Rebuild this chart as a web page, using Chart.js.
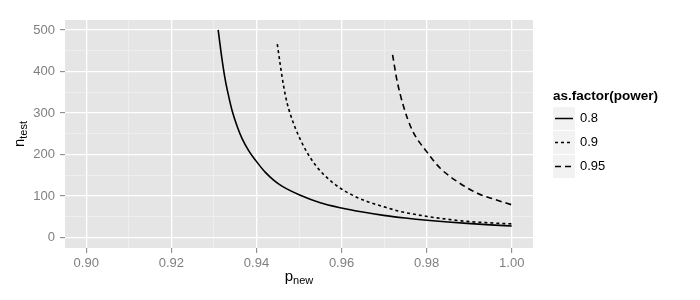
<!DOCTYPE html>
<html>
<head>
<meta charset="utf-8">
<script src="https://cdn.jsdelivr.net/npm/chart.js@4.4.1/dist/chart.umd.min.js"></script>
<style>
  html, body { margin: 0; padding: 0; background: #fff; }
  #wrap { width: 700px; height: 300px; }
</style>
</head>
<body>
<div id="wrap"><canvas id="chart" width="700" height="300"></canvas></div>
<script>
// --- Datos ---
const p80X = [0.9310, 0.9319, 0.9327, 0.9335, 0.9343, 0.9355, 0.9366, 0.9382, 0.9398, 0.9421,
              0.9441, 0.9460, 0.9503, 0.9550, 0.9597, 0.9650, 0.9699, 0.9750, 0.9801, 0.9850,
              0.9895, 0.9950, 1.0000];
const p80Y = [500, 430, 378, 339, 305, 267, 239, 209, 186, 157,
              138, 124, 102, 84, 72, 61.5, 53.6, 47.2, 41.8, 37.5,
              34.2, 30.7, 28];

const p90X = [0.9449, 0.9456, 0.9464, 0.9472, 0.9480, 0.9492, 0.9508, 0.9519, 0.9539, 0.9562,
              0.9594, 0.9630, 0.9660, 0.9700, 0.9738, 0.9801, 0.9850, 0.9895, 0.9950, 1.0000];
const p90Y = [466, 416, 364, 324, 296, 262, 226, 205, 174, 148,
              121, 100, 87, 74, 63, 51, 44, 39, 35.5, 33];

const p95X = [0.9720, 0.9730, 0.9746, 0.9766, 0.9800, 0.9832, 0.9872, 0.9919, 0.9960, 1.0000];
const p95Y = [440, 380, 315, 259, 207, 167, 135, 107, 92, 79];

const powerLevels = ["0.8", "0.9", "0.95"];
const legendTitle = "as.factor(power)";

const xMajor = [0.90, 0.92, 0.94, 0.96, 0.98, 1.00];
const xMinor = [0.91, 0.93, 0.95, 0.97, 0.99];
const yMajor = [0, 100, 200, 300, 400, 500];
const yMinor = [50, 150, 250, 350, 450];

// --- Estilo ---
const FONT = "'Liberation Sans', Arial, Helvetica, sans-serif";
const dashes = [[], [3, 3], [6, 4]];
const isIn = (arr, v) => arr.some(m => Math.abs(m - v) < 1e-9);
const pts = (xs, ys) => xs.map((x, i) => ({ x, y: ys[i] }));
const series = [pts(p80X, p80Y), pts(p90X, p90Y), pts(p95X, p95Y)];

// --- Plugins ---
const panelBg = {
  id: "panelBg",
  beforeDraw(chart) {
    const { ctx, chartArea: a } = chart;
    ctx.save();
    ctx.fillStyle = "#e5e5e5";
    ctx.fillRect(a.left, a.top, a.right - a.left, a.bottom - a.top);
    ctx.restore();
  }
};

function subText(ctx, main, sub, cx, baseline, mainSize, subSize, drop) {
  ctx.font = `${mainSize}px ${FONT}`;
  const w1 = ctx.measureText(main).width;
  ctx.font = `${subSize}px ${FONT}`;
  const w2 = ctx.measureText(sub).width;
  const x0 = cx - (w1 + w2) / 2;
  ctx.textAlign = "left";
  ctx.textBaseline = "alphabetic";
  ctx.font = `${mainSize}px ${FONT}`;
  ctx.fillText(main, x0, baseline);
  ctx.font = `${subSize}px ${FONT}`;
  ctx.fillText(sub, x0 + w1, baseline + drop);
}

const extras = {
  id: "extras",
  afterDraw(chart) {
    const { ctx, chartArea: a } = chart;
    ctx.save();
    ctx.fillStyle = "#000";
    // titulos de ejes
    subText(ctx, "p", "new", (a.left + a.right) / 2, 281, 15, 11, 3);
    ctx.save();
    ctx.translate(24, (a.top + a.bottom) / 2);
    ctx.rotate(-Math.PI / 2);
    subText(ctx, "n", "test", 0, 0, 15, 11, 3);
    ctx.restore();

    // leyenda
    const lx = 553, keyW = 22, keyH = 23;
    ctx.font = `bold 13.5px ${FONT}`;
    ctx.textAlign = "left";
    ctx.textBaseline = "middle";
    ctx.fillText(legendTitle, lx, 96);
    const rowsTop = [107, 131, 155];
    powerLevels.forEach((lab, i) => {
      const top = rowsTop[i];
      ctx.fillStyle = "#f2f2f2";
      ctx.fillRect(lx, top, keyW, keyH);
      ctx.strokeStyle = "#000";
      ctx.lineWidth = 1.5;
      ctx.setLineDash(dashes[i]);
      ctx.beginPath();
      ctx.moveTo(lx + 2, top + keyH / 2);
      ctx.lineTo(lx + keyW - 2, top + keyH / 2);
      ctx.stroke();
      ctx.setLineDash([]);
      ctx.fillStyle = "#000";
      ctx.font = `13px ${FONT}`;
      ctx.fillText(lab, lx + keyW + 5, top + keyH / 2);
    });
    ctx.restore();
  }
};

function axisCommon(major, minor, fmt, min, max) {
  return {
    type: "linear",
    min, max,
    afterBuildTicks: s => { s.ticks = major.concat(minor).sort((p, q) => p - q).map(v => ({ value: v })); },
    ticks: {
      autoSkip: false,
      maxRotation: 0,
      color: "#7f7f7f",
      font: { family: FONT, size: 13 },
      callback: v => isIn(major, v) ? fmt(v) : ""
    },
    grid: {
      color: c => isIn(major, c.tick.value) ? "#ffffff" : "#f2f2f2",
      lineWidth: c => isIn(major, c.tick.value) ? 1.3 : 0.7,
      tickColor: c => isIn(major, c.tick.value) ? "#7f7f7f" : "rgba(0,0,0,0)",
      tickWidth: 1,
      tickLength: 5
    },
    border: { display: false }
  };
}

// --- Init ---
document.addEventListener("DOMContentLoaded", () => {
  const xScale = axisCommon(xMajor, xMinor, v => v.toFixed(2), 0.895, 1.005);
  xScale.ticks.padding = 3;
  xScale.afterFit = s => { s.height = 52; };
  const yScale = axisCommon(yMajor, yMinor, v => String(v), -25, 524);
  yScale.ticks.padding = 5;
  yScale.afterFit = s => { s.width = 65; };

  new Chart(document.getElementById("chart"), {
    type: "scatter",
    data: {
      datasets: series.map((d, i) => ({
        label: powerLevels[i],
        data: d,
        showLine: true,
        borderColor: "#000",
        borderWidth: 1.6,
        borderDash: dashes[i],
        pointRadius: 0,
        cubicInterpolationMode: "monotone",
        fill: false
      }))
    },
    options: {
      responsive: false,
      animation: false,
      layout: { padding: { left: 0, top: 20, right: 167, bottom: 0 } },
      plugins: { legend: { display: false }, tooltip: { enabled: false } },
      scales: { x: xScale, y: yScale }
    },
    plugins: [panelBg, extras]
  });
});
</script>
</body>
</html>
